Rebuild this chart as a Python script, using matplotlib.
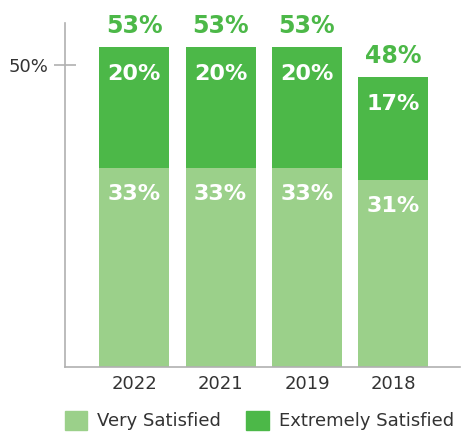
import numpy as np
import matplotlib.pyplot as plt
from matplotlib.patches import Patch

years = ['2022', '2021', '2019', '2018']
very_satisfied = [33, 33, 33, 31]
extremely_satisfied = [20, 20, 20, 17]

light_green = '#9bd08a'
dark_green = '#4cb848'
text_grey = '#333333'
axis_grey = '#b0b0b0'

fig = plt.figure(figsize=(4.63, 4.37), dpi=100)
ax = fig.add_axes([0.1404, 0.160, 0.853, 0.787])

x = np.arange(len(years))
vs = np.array(very_satisfied)
es = np.array(extremely_satisfied)
total = vs + es

ax.bar(x, vs, width=0.81, color=light_green)
ax.bar(x, es, bottom=vs, width=0.81, color=dark_green)

for i in range(len(years)):
    ax.text(x[i], vs[i] - 4.3, f'{vs[i]}%', ha='center', va='center',
            color='white', fontsize=16, fontweight='bold')
    ax.text(x[i], total[i] - 4.4, f'{es[i]}%', ha='center', va='center',
            color='white', fontsize=16, fontweight='bold')
    ax.text(x[i], total[i] + 3.6, f'{total[i]}%', ha='center', va='center',
            color=dark_green, fontsize=17, fontweight='bold')

ax.set_xlim(-0.8, 3.77)
ax.set_ylim(0, 57)
ax.set_xticks(x)
ax.set_xticklabels(years)
ax.set_yticks([50])
ax.set_yticklabels(['50%'])

for s in ['top', 'right']:
    ax.spines[s].set_visible(False)
for s in ['left', 'bottom']:
    ax.spines[s].set_color(axis_grey)
    ax.spines[s].set_linewidth(1.2)

ax.tick_params(axis='x', length=0, pad=6, labelsize=13, labelcolor=text_grey)
ax.tick_params(axis='y', direction='inout', length=16, width=1.2, color=axis_grey,
               pad=4, labelsize=13, labelcolor=text_grey)

handles = [Patch(color=light_green, label='Very Satisfied'),
           Patch(color=dark_green, label='Extremely Satisfied')]
leg = fig.legend(handles=handles, loc='lower center', bbox_to_anchor=(0.56, -0.022),
                 ncol=2, frameon=False, fontsize=13, handlelength=1.25, handleheight=1.25,
                 handletextpad=0.55, columnspacing=1.4)
for t in leg.get_texts():
    t.set_color(text_grey)

fig.savefig('out.png', dpi=100)
